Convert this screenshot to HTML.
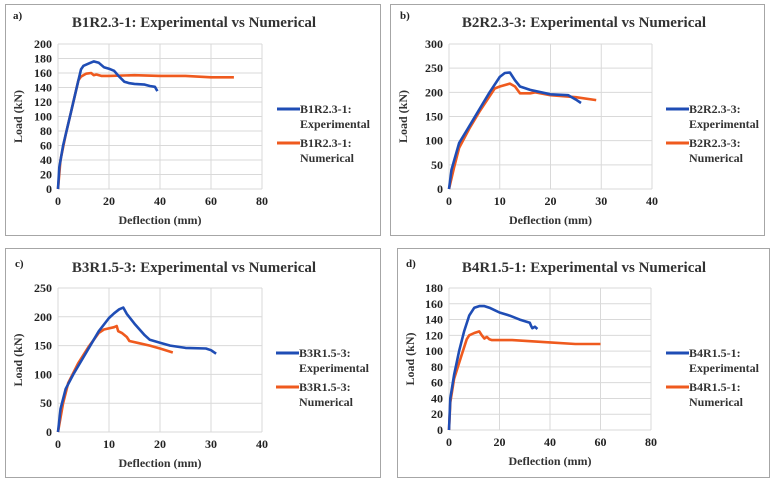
<!DOCTYPE html>
<html><head><meta charset="utf-8">
<style>
html,body{margin:0;padding:0;background:#fff;}
svg{display:block;}
svg text{font-family:"Liberation Serif","Times New Roman","DejaVu Serif",serif;font-weight:bold;}
</style></head>
<body>
<svg id="c" width="772" height="479" viewBox="0 0 772 479" xmlns="http://www.w3.org/2000/svg"></svg>
<script>
const aExpX=[0,0.5,2,5,8,9,10,12,14,16,18,20,22,24,26,28,30,34,36,38,39];
const aExpY=[0,30,60,105,150,165,170,173,176,174,168,166,163,155,148,146,145,144,142,141,135];
const aNumX=[0,1,3,5,8,9,11,13,14,15,17,20,30,40,50,60,69];
const aNumY=[0,40,75,105,150,155,159,160,157,158,156,156,157,156,156,154,154];
const bExpX=[0,0.5,2,4,6,8,10,11,12,13,14,16,20,23.5,25,26];
const bExpY=[0,40,95,130,165,200,232,240,241,225,212,205,196,194,185,178];
const bNumX=[0,1,2,4,6,9,10,12,13,14,16,17,20,25,29];
const bNumY=[0,45,85,125,160,208,212,218,212,198,198,200,194,190,184];
const cExpX=[0,0.5,1.5,3,5,7,8,10,11,12,12.8,13.5,15,17,18,20,22,25,29,30,31];
const cExpY=[0,40,75,100,130,160,175,198,206,213,216,205,188,168,160,155,150,146,145,142,136];
const cNumX=[0,1,2,4,6,8,9,11,11.5,11.8,12.5,13.5,14,16,18,20,22.5];
const cNumY=[0,50,85,120,148,172,178,182,184,175,172,165,158,154,150,145,138];
const dExpX=[0,0.5,2,4,6,8,10,12,14,16,18,20,24,28,32,32.5,33,34,35];
const dExpY=[0,40,70,100,125,145,155,157,157,155,152,149,145,140,136,132,129,131,128];
const dNumX=[0,0.5,2,5,7,8,10,12,13,14,15,16,17,25,40,50,60];
const dNumY=[0,35,65,95,115,120,123,125,120,116,118,115,114,114,111,109,109];
const xTicksA=[0,20,40,60,80], yTicksA=[0,20,40,60,80,100,120,140,160,180,200];
const xTicksB=[0,10,20,30,40], yTicksB=[0,50,100,150,200,250,300];
const xTicksC=[0,10,20,30,40], yTicksC=[0,50,100,150,200,250];
const xTicksD=[0,20,40,60,80], yTicksD=[0,20,40,60,80,100,120,140,160,180];

const svg=document.getElementById('c');
const NS='http://www.w3.org/2000/svg';
const FF='"Liberation Serif","Times New Roman","DejaVu Serif",serif';
function mk(tag,at,parent,txt){const e=document.createElementNS(NS,tag);for(const k in at)e.setAttribute(k,at[k]);if(tag==='text'){e.setAttribute('font-family',FF);e.setAttribute('font-weight','bold');}if(txt!==undefined)e.textContent=txt;(parent||svg).appendChild(e);return e;}

const panels=[
 {id:'a',lab:'a)',name:'B1R2.3-1',box:[5,4,375,231],px:[58,262],py:[189,44],xt:xTicksA,yt:yTicksA,ex:aExpX,ey:aExpY,nx:aNumX,ny:aNumY,lx:277,ly:109,labx:13,laby:19,tx:194,ty:27},
 {id:'b',lab:'b)',name:'B2R2.3-3',box:[390,4,374,231],px:[449,652],py:[189,44],xt:xTicksB,yt:yTicksB,ex:bExpX,ey:bExpY,nx:bNumX,ny:bNumY,lx:666,ly:109,labx:400,laby:19,tx:584,ty:27},
 {id:'c',lab:'c)',name:'B3R1.5-3',box:[5,248,375,229],px:[58,262],py:[432,288],xt:xTicksC,yt:yTicksC,ex:cExpX,ey:cExpY,nx:cNumX,ny:cNumY,lx:276,ly:353,labx:15,laby:267,tx:194,ty:272},
 {id:'d',lab:'d)',name:'B4R1.5-1',box:[397,248,372,229],px:[449,651],py:[430,288],xt:xTicksD,yt:yTicksD,ex:dExpX,ey:dExpY,nx:dNumX,ny:dNumY,lx:666,ly:353,labx:406,laby:267,tx:584,ty:272}
];
panels.forEach(p=>{
 const g=mk('g',{});
 
 
 const b=mk('rect',{x:p.box[0]+0.5,y:p.box[1]+0.5,width:p.box[2],height:p.box[3],fill:'#fff',stroke:'#a6a6a6','stroke-width':1},g);
 
 
 const xmax=p.xt[p.xt.length-1], ymax=p.yt[p.yt.length-1];
 const X=v=>p.px[0]+(p.px[1]-p.px[0])*v/xmax;
 const Y=v=>p.py[0]+(p.py[1]-p.py[0])*v/ymax;
 p.yt.forEach(t=>{
  const l=mk('line',{x1:p.px[0],x2:p.px[1],y1:Y(t),y2:Y(t),stroke:'#d9d9d9','stroke-width':1},g);
  
  
  const tx=mk('text',{x:p.px[0]-6,y:Y(t)+4,'text-anchor':'end','font-size':12,fill:'#222'},g,t);
  
  
 });
 p.xt.forEach(t=>{
  const l=mk('line',{x1:X(t),x2:X(t),y1:p.py[0],y2:p.py[1],stroke:'#d9d9d9','stroke-width':1},g);
  
  
  const tx=mk('text',{x:X(t),y:p.py[0]+16,'text-anchor':'middle','font-size':12,fill:'#222'},g,t);
  
  
 });
 const lab=mk('text',{x:p.labx,y:p.laby,'font-size':11,fill:'#222'},g,p.lab);
 
 
 const ti=mk('text',{x:p.tx,y:p.ty,'text-anchor':'middle','font-size':15,fill:'#333'},g,p.name+': Experimental  vs Numerical');
 
 
 const cx=(p.px[0]+p.px[1])/2;
 const xl=mk('text',{x:cx,y:p.py[0]+35,'text-anchor':'middle','font-size':12,fill:'#333'},g,'Deflection (mm)');
 
 
 const cy=(p.py[0]+p.py[1])/2;
 const yl=mk('text',{x:p.box[0]+17,y:cy,'text-anchor':'middle','font-size':12,fill:'#333',transform:`rotate(-90 ${p.box[0]+17} ${cy})`},g,'Load (kN)');
 
 
 const series=[[p.nx,p.ny,'#ef5a1e','numerical'],[p.ex,p.ey,'#1f4db5','experimental']];
 series.forEach(s=>{
  const d=s[0].map((v,i)=>(i?'L':'M')+X(v).toFixed(1)+','+Y(s[1][i]).toFixed(1)).join(' ');
  const pa=mk('path',{d:d,fill:'none',stroke:s[2],'stroke-width':2.6,'stroke-linejoin':'round'},g);
  
  
 });
 const legend=[[p.ly,'#1f4db5','Experimental',0],[p.ly+34,'#ef5a1e','Numerical',1]];
 legend.forEach(e=>{
  const lg=mk('g',{},g);
  
  
  mk('line',{x1:p.lx,x2:p.lx+23,y1:e[0],y2:e[0],stroke:e[1],'stroke-width':3},lg);
  mk('text',{x:p.lx+23,y:e[0]+4,'font-size':12,fill:'#333'},lg,p.name+':');
  mk('text',{x:p.lx+23,y:e[0]+19,'font-size':12,fill:'#333'},lg,e[2]);
 });
});
</script>
</body></html>
